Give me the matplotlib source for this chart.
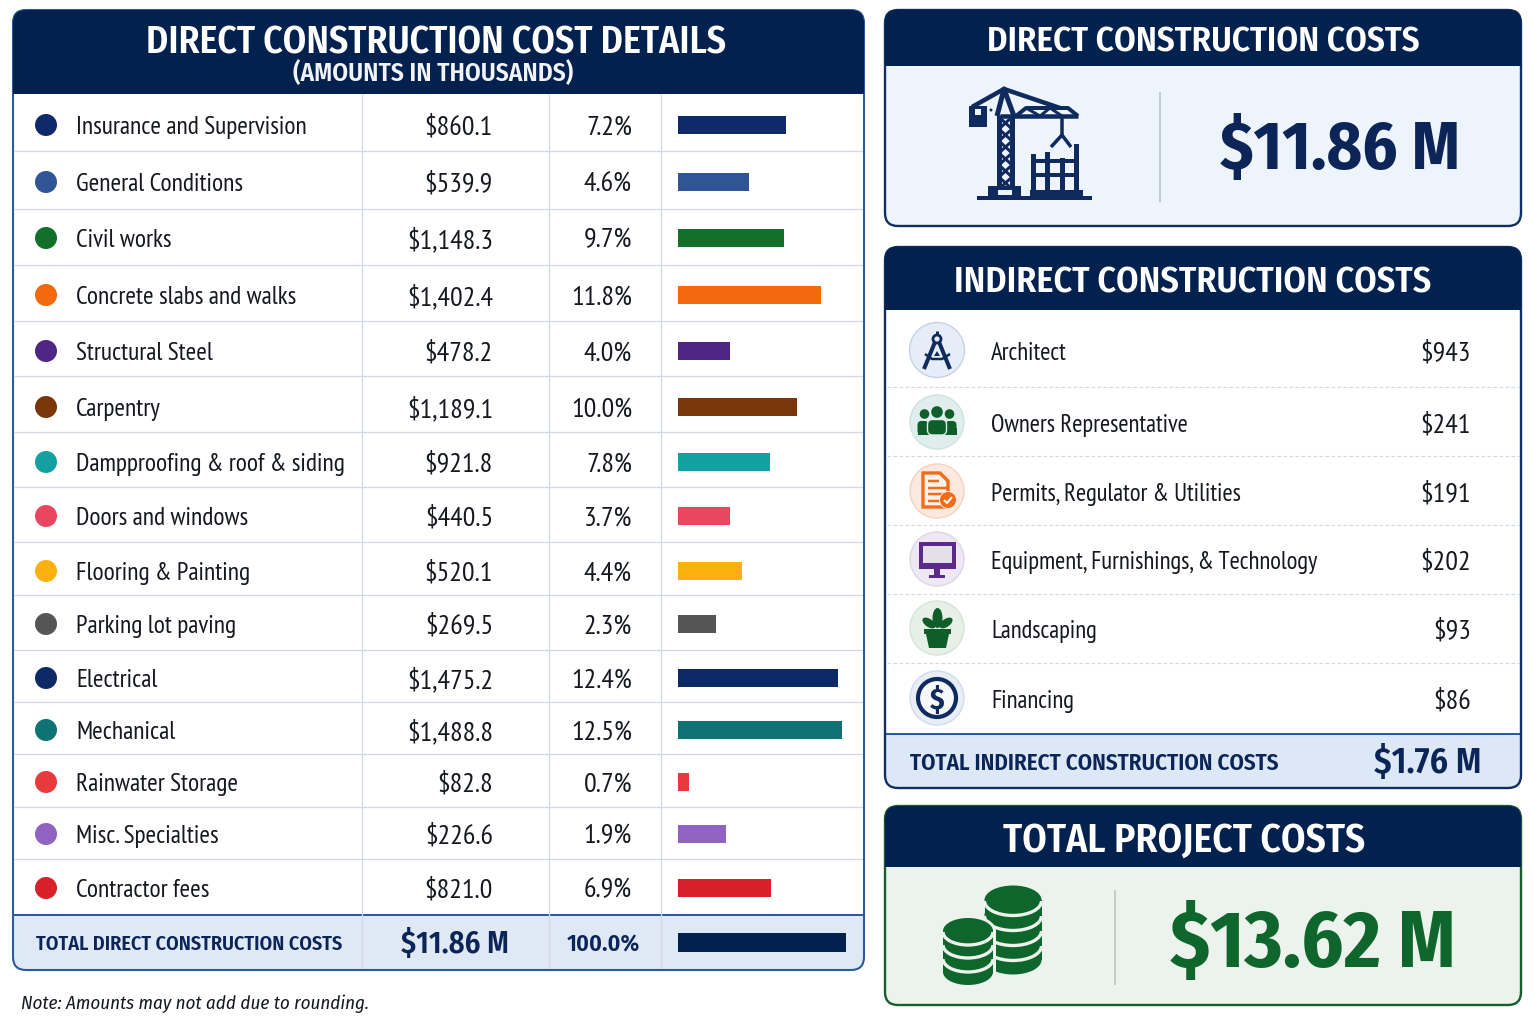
import matplotlib
matplotlib.use('Agg')
import matplotlib.pyplot as plt
from matplotlib import font_manager as fm
from matplotlib.patches import FancyBboxPatch, Rectangle, Circle, Ellipse, Polygon, Arc

W, H = 1534, 1028
NAVY = '#03214f'
INK = '#0c2558'

# узкие шрифты, если они есть, иначе Lato
installed = {f.name for f in fm.fontManager.ttflist}
FONT = next(n for n in ['Fira Sans Condensed', 'Lato', 'DejaVu Sans'] if n in installed)
BODY = next(n for n in ['PT Sans Narrow', 'Fira Sans Condensed', 'Lato', 'DejaVu Sans'] if n in installed)
plt.rcParams['font.family'] = [FONT, 'DejaVu Sans']

# таблица прямых затрат
items = ['Insurance and Supervision', 'General Conditions', 'Civil works',
         'Concrete slabs and walks', 'Structural Steel', 'Carpentry',
         'Dampproofing & roof & siding', 'Doors and windows', 'Flooring & Painting',
         'Parking lot paving', 'Electrical', 'Mechanical', 'Rainwater Storage',
         'Misc. Specialties', 'Contractor fees']
amounts = ['$860.1', '$539.9', '$1,148.3', '$1,402.4', '$478.2', '$1,189.1', '$921.8',
           '$440.5', '$520.1', '$269.5', '$1,475.2', '$1,488.8', '$82.8', '$226.6', '$821.0']
shares = ['7.2%', '4.6%', '9.7%', '11.8%', '4.0%', '10.0%', '7.8%', '3.7%', '4.4%',
          '2.3%', '12.4%', '12.5%', '0.7%', '1.9%', '6.9%']
# длины полос как на картинке, итоговая полоса = 100
bar_values = [64.3, 42.3, 63.1, 85.1, 31.0, 70.8, 54.8, 31.0, 38.1, 22.6, 95.2, 97.6, 6.5, 28.6, 55.4]
total_bar = 100
item_colors = ['#0f2a6b', '#2f5597', '#12702a', '#f26a0d', '#4f2683', '#7a3608', '#13a0a3',
               '#e8475f', '#fdb011', '#555555', '#0b2a66', '#0c7273', '#e83a3c', '#9063c0', '#d8202a']

# косвенные затраты
indirect_items = ['Architect', 'Owners Representative', 'Permits, Regulator & Utilities',
                  'Equipment, Furnishings, & Technology', 'Landscaping', 'Financing']
indirect_amounts = ['$943', '$241', '$191', '$202', '$93', '$86']

# раскладка таблиц, пиксели
row_y = [125, 182, 238, 295, 351, 407, 462, 516, 571, 624, 678, 730, 782, 834, 888]
row_lines = [151, 209, 265, 321, 376, 432, 487, 542, 595, 650, 702, 754, 807, 859]
indirect_y = [351, 423, 492, 560, 629, 699]
indirect_lines = [387, 456, 525, 594, 663]

fig = plt.figure(figsize=(W / 100, H / 100), dpi=100, facecolor='white')
ax = fig.add_axes([0, 0, 1, 1])
ax.set_xlim(0, W)
ax.set_ylim(H, 0)
ax.axis('off')
renderer = fig.canvas.get_renderer()


def put(x, y, s, size=18, color='#15181f', ha='center', weight='normal', style='normal', width=None, font=None):
    t = ax.text(x, y, s, fontsize=size, color=color, ha=ha, va='center_baseline', family=font or FONT,
                fontweight=weight, fontstyle=style, zorder=6)
    # подгонка размера под ширину надписи на картинке
    if width:
        t.set_fontsize(size * width / t.get_window_extent(renderer).width)
    return t


def size_for(s, width, font):
    t = ax.text(0, 0, s, fontsize=10, family=font)
    size = 10 * width / t.get_window_extent(renderer).width
    t.remove()
    return size


def panel(x0, y0, x1, y1, face, edge, lw=1.7):
    back = FancyBboxPatch((x0, y0), x1 - x0, y1 - y0, boxstyle='round,pad=0,rounding_size=13',
                          fc=face, ec='none', zorder=1)
    ax.add_patch(back)
    line = FancyBboxPatch((x0, y0), x1 - x0, y1 - y0, boxstyle='round,pad=0,rounding_size=13',
                          fc='none', ec=edge, lw=lw, zorder=5)
    ax.add_patch(line)
    return back


def band(x0, y0, x1, y1, color, clip, z=2):
    r = Rectangle((x0, y0), x1 - x0, y1 - y0, fc=color, ec='none', zorder=z)
    ax.add_patch(r)
    r.set_clip_path(clip)


def seg(xs, ys, color, width, z=4, **kw):
    ax.plot(xs, ys, color=color, lw=width * 0.72, zorder=z, solid_capstyle='butt', **kw)


def box(x0, y0, x1, y1, color, z=4):
    ax.add_patch(Rectangle((x0, y0), x1 - x0, y1 - y0, fc=color, ec='none', zorder=z))


def disc(x, y, r, face, edge='none', lw=0, z=4):
    ax.add_patch(Circle((x, y), r, fc=face, ec=edge, lw=lw, zorder=z))


def crane():
    c = '#0f2a5c'
    # башня
    seg([999, 999], [115, 187], c, 5)
    seg([1012, 1012], [115, 187], c, 5)
    for y0 in [117, 141, 165]:
        seg([999, 1012, 999], [y0, y0 + 12, y0 + 24], c, 3)
        seg([1012, 999, 1012], [y0, y0 + 12, y0 + 24], c, 3)
    seg([997, 1004, 1014], [116, 89, 116], c, 5)
    # стрела
    seg([972, 1004, 1060], [107, 89, 108], c, 4.5)
    seg([1000, 1078], [116, 116], c, 4.5)
    seg([1016, 1026, 1068, 1078], [116, 108, 108, 116], c, 4)
    seg([1026, 1040, 1050, 1062], [108, 116, 108, 116], c, 3)
    box(969, 106, 987, 127, c)
    box(975, 109, 981, 115, '#eef4fc', z=5)
    disc(991, 110, 1.5, c)
    # крюк
    seg([1062, 1062], [116, 135], c, 3.5)
    seg([1051, 1062, 1071], [147, 135, 147], c, 3.5)
    # здание
    for x0, top in zip([1031, 1045, 1060, 1074], [154, 152, 158, 144]):
        box(x0, top, x0 + 5, 191, c)
    box(1031, 159, 1079, 163, c)
    box(1031, 173, 1079, 177, c)
    box(1030, 190, 1083, 197, c)
    box(988, 186, 1021, 197, c)
    box(998, 190, 1012, 195, '#eef4fc', z=5)
    box(977, 196, 1092, 200, c)


def compass(x, y):
    c = '#0f2a5c'
    disc(x, y, 27.5, '#e6edf7', '#c6d3e7', 1)
    ax.add_patch(Circle((x, y - 11), 4, fc='none', ec=c, lw=2, zorder=5))
    seg([x - 2, x - 13], [y - 8, y + 19], c, 4, z=5)
    seg([x + 2, x + 13], [y - 8, y + 19], c, 4, z=5)
    seg([x, x], [y - 19, y - 15], c, 3, z=5)
    seg([x - 12, x - 5, x + 5, x + 13], [y + 4, y + 9, y + 9, y + 4], c, 2.5, z=5)
    ax.add_patch(Polygon([(x - 3, y + 6), (x + 3, y + 6), (x, y + 1)], fc=c, ec='none', zorder=5))


def people(x, y):
    c = '#0f5e2a'
    disc(x, y, 27, '#dfeeec', '#cfe2df', 1)
    disc(x, y - 10, 5.8, c, z=5)
    disc(x - 12.5, y - 8, 4.8, c, z=5)
    disc(x + 12.5, y - 8, 4.8, c, z=5)
    for x0, w, top in [(x - 19.5, 11, y - 1), (x + 8.5, 11, y - 1)]:
        ax.add_patch(FancyBboxPatch((x0, top), w, y + 13 - top, boxstyle='round,pad=0,rounding_size=4',
                                    fc=c, ec='none', zorder=5))
    box(x - 19.5, y + 6, x + 19.5, y + 13, c, z=5)
    ax.add_patch(FancyBboxPatch((x - 9.5, y - 2.5), 19, 15.5, boxstyle='round,pad=0,rounding_size=5',
                                fc=c, ec='#dfeeec', lw=1, zorder=5.2))


def permit(x, y):
    c = '#ee6c1a'
    disc(x, y, 27, '#fbe9df', '#f3d3bf', 1)
    ax.add_patch(Polygon([(x - 14, y - 18), (x + 3, y - 18), (x + 11, y - 10), (x + 11, y + 16), (x - 14, y + 16)],
                         closed=True, fc='#fbf1ea', ec=c, lw=2.4, zorder=5))
    for dy, w in [(-10, 11), (-3, 19), (3, 19), (10, 12)]:
        seg([x - 9, x - 9 + w], [y + dy, y + dy], c, 2.5, z=5)
    disc(x + 11, y + 9, 9, '#fbe9df', z=5.5)
    disc(x + 11, y + 9, 8, c, z=6)
    seg([x + 7, x + 10, x + 15], [y + 9, y + 12, y + 6], 'white', 2, z=7)


def monitor(x, y):
    c = '#5b2a8c'
    disc(x, y, 27, '#ede8f4', '#dcd5e8', 1)
    box(x - 18, y - 17, x + 19, y + 10, c, z=5)
    box(x - 14, y - 13, x + 15, y + 4, '#e4e0ea', z=6)
    box(x - 3, y + 10, x + 3, y + 16, c, z=5)
    box(x - 8, y + 16, x + 8, y + 19, c, z=5)


def plant(x, y):
    c = '#0f5e2a'
    disc(x, y, 27, '#e6f0e6', '#d6e4d6', 1)
    ax.add_patch(Ellipse((x + 0.5, y - 10), 10, 20, fc=c, ec='none', zorder=5))
    ax.add_patch(Ellipse((x - 8, y - 5), 15, 8, angle=35, fc=c, ec='none', zorder=5))
    ax.add_patch(Ellipse((x + 9, y - 5), 15, 8, angle=-35, fc=c, ec='none', zorder=5))
    box(x - 13, y + 1, x + 14, y + 6, c, z=5)
    ax.add_patch(Polygon([(x - 11, y + 6), (x + 12, y + 6), (x + 9, y + 20), (x - 8, y + 20)],
                         closed=True, fc=c, ec='none', zorder=5))


def dollar(x, y):
    c = '#0f2a5c'
    disc(x, y, 27, '#e8edf6', '#d3dceb', 1)
    disc(x, y, 19, '#f6f8fc', c, 3, z=5)
    put(x, y, '$', 21, c, weight='bold')


def coins(tint):
    c = '#0e662c'
    # правая стопка
    x, rx, ry = 1013, 28.5, 14.5
    tops = [900, 915, 930, 945, 960]
    box(x - rx, tops[0], x + rx, tops[-1], c)
    for t in tops:
        ax.add_patch(Ellipse((x, t), 2 * rx, 2 * ry, fc=c, ec='none', zorder=4))
    for t in tops[:-1]:
        ax.add_patch(Arc((x, t + 1), 2 * rx, 2 * ry, theta1=0, theta2=180, color=tint, lw=2.4, zorder=4.2))
    # левая стопка с ореолом
    x, rx, ry = 968, 25, 13
    tops = [931, 944, 958, 972]
    box(x - rx - 3, tops[0], x + rx + 3, tops[-1], tint, z=4.3)
    ax.add_patch(Ellipse((x, tops[0]), 2 * rx + 6, 2 * ry + 6, fc=tint, ec='none', zorder=4.3))
    ax.add_patch(Ellipse((x, tops[-1]), 2 * rx + 6, 2 * ry + 6, fc=tint, ec='none', zorder=4.3))
    box(x - rx, tops[0], x + rx, tops[-1], c, z=4.4)
    for t in tops:
        ax.add_patch(Ellipse((x, t), 2 * rx, 2 * ry, fc=c, ec='none', zorder=4.4))
    for t in tops[:-1]:
        ax.add_patch(Arc((x, t + 1), 2 * rx, 2 * ry, theta1=0, theta2=180, color=tint, lw=2.4, zorder=4.5))


# левая панель
left = panel(13, 10, 864, 970, 'white', '#2a5aa0', 1.5)
band(13, 10, 864, 94, NAVY, left, z=5.5)
band(13, 915, 864, 970, '#dfe9f5', left)
put(436, 39, 'DIRECT CONSTRUCTION COST DETAILS', 27, 'white', weight=600, width=580)
put(433, 71, '(AMOUNTS IN THOUSANDS)', 16, '#f0f3f8', weight=600, width=280)
for y in row_lines:
    seg([14, 863], [y, y], '#d3d9e3', 1.3, z=3)
seg([14, 863], [915, 915], '#2a5aa0', 2, z=3)
for x in [362, 549, 661]:
    seg([x, x], [94, 970], '#d3d9e3', 1.3, z=3)

body = size_for('Dampproofing & roof & siding', 270, BODY)
money = size_for('$1,148.3', 86, BODY)
for name, amount, share, color, y in zip(items, amounts, shares, item_colors, row_y):
    disc(46, y, 11, color)
    put(76, y, name, body, ha='left', font=BODY)
    put(493, y, amount, money, ha='right', font=BODY)
    put(632, y, share, money, ha='right', font=BODY)

put(36, 942, 'TOTAL DIRECT CONSTRUCTION COSTS', 15, INK, ha='left', weight=600, width=306)
put(455, 941, '$11.86 M', 22, INK, weight=600, width=108)
put(603, 942, '100.0%', 20, INK, weight=600, width=73)
put(21, 1002, 'Note: Amounts may not add due to rounding.', 14.5, ha='left', style='italic', width=348)

# полосы на отдельной оси
ax_bars = fig.add_axes([678 / W, 1 - 970 / H, (846 - 678) / W, (970 - 94) / H])
ax_bars.set_xlim(0, 100)
ax_bars.set_ylim(970, 94)
ax_bars.axis('off')
ax_bars.barh(row_y, bar_values, height=18, color=item_colors)
ax_bars.barh([942], [total_bar], height=19, color=NAVY)

# прямые затраты
direct = panel(885, 10, 1521, 226, '#eef4fc', '#12305f')
band(885, 10, 1521, 66, NAVY, direct, z=5.5)
put(1203, 38, 'DIRECT CONSTRUCTION COSTS', 25, 'white', weight=600, width=433)
seg([1160, 1160], [92, 202], '#b4bdca', 1.5)
crane()
put(1340, 143, '$11.86 M', 50, INK, weight='bold', width=240)

# косвенные затраты
indirect = panel(885, 247, 1521, 788, 'white', '#12305f')
band(885, 247, 1521, 310, NAVY, indirect, z=5.5)
band(885, 734, 1521, 788, '#dce8f5', indirect)
put(1193, 279, 'INDIRECT CONSTRUCTION COSTS', 27, 'white', weight=600, width=478)
for y in indirect_lines:
    seg([887, 1519], [y, y], '#d3d9e3', 1.2, z=3, ls=(0, (3, 2)))
seg([886, 1520], [734, 734], '#2a5aa0', 2, z=3)
for draw, y in zip([compass, people, permit, monitor, plant, dollar], indirect_y):
    draw(937, y - 1)
small = size_for('Equipment, Furnishings, & Technology', 327, BODY)
for name, amount, y in zip(indirect_items, indirect_amounts, indirect_y):
    put(991, y, name, small, ha='left', font=BODY)
    put(1471, y, amount, money, ha='right', font=BODY)
put(910, 761, 'TOTAL INDIRECT CONSTRUCTION COSTS', 16, INK, ha='left', weight=600, width=370)
put(1481, 759, '$1.76 M', 25, INK, ha='right', weight=600, width=108)

# итого по проекту
total = panel(885, 806, 1521, 1005, '#ecf3ec', '#1a5c30')
band(885, 806, 1521, 867, NAVY, total, z=5.5)
put(1184, 837, 'TOTAL PROJECT COSTS', 27, 'white', weight=600, width=363)
seg([1115, 1115], [890, 985], '#b9c2b9', 1.5)
coins('#ecf3ec')
put(1313, 936, '$13.62 M', 60, '#0e662c', weight='bold', width=286)

fig.savefig('out.png', dpi=100)
